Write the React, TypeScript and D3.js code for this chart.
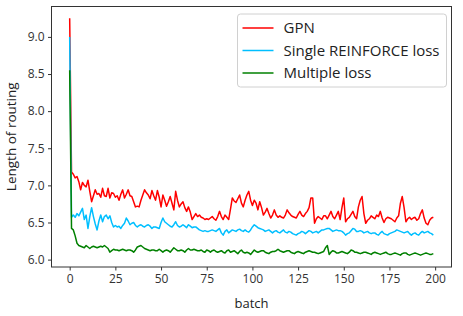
import React, { useEffect, useRef } from "react";
import * as d3 from "d3";

// batch index 0..199
const gpn = [
  9.25, 7.18, 7.15, 7.1, 7.12, 7.05, 6.94, 7.04, 7.0, 6.98,
  7.07, 6.92, 6.78, 6.86, 6.94, 6.88, 6.89, 6.84, 6.96, 6.86,
  6.85, 6.96, 6.83, 6.9, 6.89, 6.84, 6.86, 6.8, 6.88, 6.94,
  6.83, 6.88, 6.94, 6.86, 6.85, 6.78, 6.71, 6.72, 6.71, 6.8,
  6.87, 6.94, 6.9, 6.87, 6.82, 6.93, 6.86, 6.8, 6.93, 6.84,
  6.71, 6.87, 6.8, 6.72, 6.78, 6.85, 6.76, 6.67, 6.92, 6.8,
  6.71, 6.75, 6.78, 6.7, 6.65, 6.71, 6.64, 6.54, 6.58, 6.62,
  6.58, 6.6, 6.57, 6.56, 6.54, 6.55, 6.54, 6.56, 6.58, 6.55,
  6.53, 6.58, 6.65, 6.58, 6.54, 6.6, 6.57, 6.54, 6.68, 6.83,
  6.79, 6.77, 6.82, 6.87, 6.76, 6.71, 6.8, 6.87, 6.92, 6.8,
  6.73, 6.8, 6.76, 6.67, 6.78, 6.7, 6.6, 6.64, 6.69, 6.62,
  6.56, 6.6, 6.67, 6.6, 6.57, 6.59, 6.57, 6.56, 6.6, 6.67,
  6.63, 6.6, 6.58, 6.57, 6.56, 6.61, 6.65, 6.6, 6.58, 6.62,
  6.65, 6.7, 6.83, 6.83, 6.49, 6.55, 6.58, 6.56, 6.54, 6.59,
  6.59, 6.55, 6.6, 6.65, 6.58, 6.55, 6.6, 6.65, 6.54, 6.7,
  6.83, 6.51, 6.55, 6.57, 6.61, 6.65, 6.58, 6.55, 6.71, 6.8,
  6.85, 6.62, 6.49, 6.53, 6.55, 6.59, 6.57, 6.55, 6.6, 6.58,
  6.65, 6.56, 6.5, 6.55, 6.57, 6.56, 6.55, 6.53, 6.51, 6.56,
  6.59, 6.76, 6.85, 6.7, 6.51, 6.55, 6.57, 6.54, 6.56, 6.57,
  6.53, 6.55, 6.62, 6.67, 6.56, 6.49, 6.47, 6.53, 6.56, 6.57,
];

const singleLoss = [
  9.0, 6.57, 6.6, 6.57, 6.62, 6.59, 6.64, 6.69, 6.54, 6.6,
  6.42, 6.58, 6.7, 6.58, 6.48, 6.4, 6.52, 6.6, 6.51, 6.58,
  6.6, 6.55, 6.59, 6.5, 6.44, 6.46, 6.44, 6.45, 6.42, 6.46,
  6.49, 6.56, 6.52, 6.47, 6.49, 6.5, 6.46, 6.44, 6.46, 6.47,
  6.45, 6.44, 6.46, 6.47, 6.45, 6.42, 6.44, 6.44, 6.43, 6.42,
  6.5, 6.56, 6.51, 6.49, 6.47, 6.45, 6.44, 6.47, 6.51, 6.46,
  6.44, 6.45, 6.47, 6.45, 6.43, 6.47, 6.45, 6.43, 6.44, 6.44,
  6.42, 6.4, 6.39, 6.38, 6.39, 6.38, 6.38, 6.39, 6.4, 6.39,
  6.38, 6.4, 6.42, 6.36, 6.33, 6.38, 6.4, 6.36, 6.38, 6.4,
  6.39, 6.38, 6.4, 6.41, 6.39, 6.38, 6.4, 6.38, 6.37, 6.4,
  6.44, 6.47, 6.45, 6.43, 6.42, 6.41, 6.4, 6.38, 6.39, 6.4,
  6.38, 6.36, 6.38, 6.39, 6.37, 6.36, 6.38, 6.4, 6.37, 6.36,
  6.38, 6.37, 6.35, 6.34, 6.33, 6.35, 6.36, 6.38, 6.37, 6.35,
  6.37, 6.39, 6.38, 6.36, 6.37, 6.38, 6.36, 6.38, 6.4, 6.4,
  6.41, 6.42, 6.42, 6.4, 6.38, 6.39, 6.4, 6.39, 6.39, 6.38,
  6.36, 6.33, 6.35, 6.36, 6.39, 6.42, 6.41, 6.38, 6.38, 6.39,
  6.38, 6.36, 6.37, 6.38, 6.36, 6.35, 6.36, 6.36, 6.34, 6.33,
  6.36, 6.38, 6.35, 6.34, 6.33, 6.35, 6.36, 6.37, 6.38, 6.4,
  6.39, 6.38, 6.37, 6.36, 6.37, 6.38, 6.35, 6.33, 6.35, 6.36,
  6.34, 6.33, 6.36, 6.38, 6.36, 6.37, 6.38, 6.36, 6.35, 6.33,
];

const multipleLoss = [
  8.55, 6.42, 6.4, 6.32, 6.22, 6.19, 6.18, 6.17, 6.16, 6.19,
  6.17, 6.15, 6.17, 6.18, 6.17, 6.16, 6.17, 6.18, 6.17, 6.19,
  6.17, 6.15, 6.1, 6.12, 6.14, 6.13, 6.13, 6.12, 6.13, 6.14,
  6.13, 6.12, 6.13, 6.13, 6.12, 6.1, 6.13, 6.17, 6.18, 6.19,
  6.17, 6.15, 6.14, 6.13, 6.12, 6.13, 6.13, 6.12, 6.12, 6.14,
  6.12, 6.1, 6.12, 6.13, 6.12, 6.1, 6.13, 6.16, 6.14, 6.12,
  6.12, 6.13, 6.12, 6.1, 6.13, 6.15, 6.13, 6.13, 6.14, 6.13,
  6.12, 6.12, 6.13, 6.11, 6.1, 6.13, 6.12, 6.1, 6.12, 6.13,
  6.11, 6.1, 6.11, 6.12, 6.1, 6.09, 6.12, 6.13, 6.1, 6.11,
  6.12, 6.1, 6.08, 6.11, 6.13, 6.1, 6.09, 6.1, 6.09, 6.07,
  6.1, 6.13, 6.11, 6.1, 6.11, 6.12, 6.12, 6.1, 6.09, 6.08,
  6.1, 6.11, 6.11, 6.12, 6.14, 6.12, 6.11, 6.1, 6.11, 6.12,
  6.12, 6.1, 6.09, 6.08, 6.1, 6.11, 6.1, 6.09, 6.08, 6.1,
  6.11, 6.12, 6.11, 6.1, 6.1, 6.09, 6.08, 6.09, 6.1, 6.11,
  6.16, 6.19, 6.07, 6.1, 6.12, 6.11, 6.09, 6.09, 6.1, 6.11,
  6.1, 6.09, 6.08, 6.1, 6.13, 6.12, 6.1, 6.1, 6.09, 6.08,
  6.09, 6.1, 6.1, 6.09, 6.08, 6.07, 6.09, 6.1, 6.09, 6.08,
  6.07, 6.08, 6.09, 6.1, 6.08, 6.07, 6.07, 6.08, 6.09, 6.08,
  6.07, 6.06, 6.08, 6.09, 6.09, 6.07, 6.06, 6.07, 6.08, 6.09,
  6.08, 6.07, 6.06, 6.07, 6.08, 6.09, 6.08, 6.07, 6.07, 6.08,
];

const seriesNames = ["GPN", "Single REINFORCE loss", "Multiple loss"];
const seriesColors = ["#ff0000", "#00bfff", "#008000"];
const xTicks = [0, 25, 50, 75, 100, 125, 150, 175, 200];
const yTicks = [6.0, 6.5, 7.0, 7.5, 8.0, 8.5, 9.0];

const LineChart = () => {
  const svgRef = useRef<SVGSVGElement>(null);

  useEffect(() => {
    const svg = d3.select(svgRef.current);
    svg.selectAll("*").remove();

    const margin = { top: 6.5, right: 11.5, bottom: 49, left: 51.5 };
    const width = 463 - margin.left - margin.right;
    const height = 316 - margin.top - margin.bottom;
    const font = "'Open Sans', 'Noto Sans', sans-serif";

    const all = [gpn, singleLoss, multipleLoss];
    const n = gpn.length;
    // matplotlib style 5% padding
    const xPad = (n - 1) * 0.05;
    const yMin = d3.min(all, (s) => d3.min(s)) as number;
    const yMax = d3.max(all, (s) => d3.max(s)) as number;
    const yPad = (yMax - yMin) * 0.05;

    const xScale = d3.scaleLinear().domain([-xPad, n - 1 + xPad]).range([0, width]);
    const yScale = d3.scaleLinear().domain([yMin - yPad, yMax + yPad]).range([height, 0]);

    const g = svg
      .append("g")
      .attr("transform", `translate(${margin.left},${margin.top})`);

    const line = d3
      .line<number>()
      .x((d, i) => xScale(i))
      .y((d) => yScale(d));

    all.forEach((s, i) => {
      g.append("path")
        .datum(s)
        .attr("d", line)
        .attr("fill", "none")
        .attr("stroke", seriesColors[i])
        .attr("stroke-width", 1.5)
        .attr("stroke-linejoin", "round");
    });

    const xAxis = g
      .append("g")
      .attr("transform", `translate(0,${height})`)
      .call(d3.axisBottom(xScale).tickValues(xTicks).tickSize(3.5).tickPadding(3.5).tickFormat(d3.format("d")));
    const yAxis = g
      .append("g")
      .call(d3.axisLeft(yScale).tickValues(yTicks).tickSize(3.5).tickPadding(3.5).tickFormat(d3.format(".1f")));

    [xAxis, yAxis].forEach((ax) => {
      ax.select(".domain").remove();
      ax.selectAll("line").attr("stroke", "#333");
      ax.selectAll("text")
        .attr("fill", "#333")
        .style("font-family", font)
        .style("font-size", "12px");
    });

    // frame
    g.append("rect")
      .attr("width", width)
      .attr("height", height)
      .attr("fill", "none")
      .attr("stroke", "#333")
      .attr("stroke-width", 1);

    g.append("text")
      .attr("x", width / 2)
      .attr("y", height + 41)
      .attr("text-anchor", "middle")
      .attr("fill", "#222")
      .style("font-family", font)
      .style("font-size", "13px")
      .text("batch");

    g.append("text")
      .attr("transform", `translate(${-35.5},${height / 2}) rotate(-90)`)
      .attr("text-anchor", "middle")
      .attr("fill", "#222")
      .style("font-family", font)
      .style("font-size", "13.5px")
      .text("Length of routing");

    // legend
    const legend = g.append("g").attr("transform", `translate(${width - 214},${7.5})`);
    legend
      .append("rect")
      .attr("width", 209)
      .attr("height", 73)
      .attr("rx", 3)
      .attr("fill", "white")
      .attr("fill-opacity", 0.8)
      .attr("stroke", "#d0d0d0");
    seriesNames.forEach((name, i) => {
      const y = 14 + i * 22.5;
      legend
        .append("line")
        .attr("x1", 5)
        .attr("x2", 36)
        .attr("y1", y)
        .attr("y2", y)
        .attr("stroke", seriesColors[i])
        .attr("stroke-width", 1.5);
      legend
        .append("text")
        .attr("x", 46)
        .attr("y", y)
        .attr("dy", "0.35em")
        .attr("fill", "#222")
        .style("font-family", font)
        .style("font-size", "15px")
        .text(name);
    });
  }, []);

  return (
    <svg
      ref={svgRef}
      width={463}
      height={316}
      style={{ position: "absolute", left: 0, top: 0, background: "white" }}
    ></svg>
  );
};

export default function App() {
  return <LineChart />;
}
